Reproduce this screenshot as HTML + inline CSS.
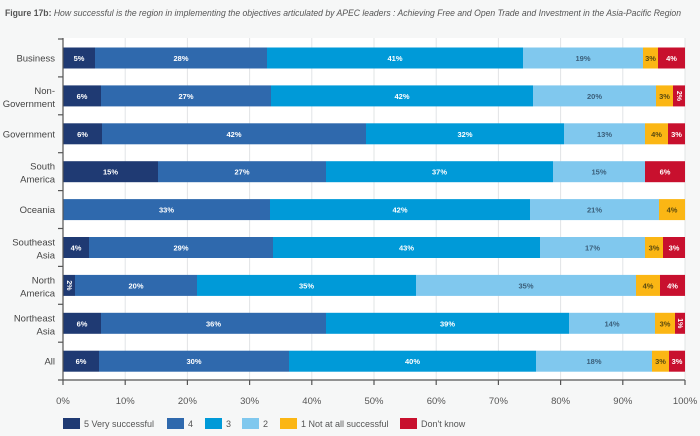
<!DOCTYPE html>
<html><head><meta charset="utf-8"><style>
body{margin:0;background:#f6f7f7;font-family:"Liberation Sans",sans-serif;}
svg{display:block}
</style></head><body>
<svg id="s" width="700" height="436" viewBox="0 0 700 436" xmlns="http://www.w3.org/2000/svg">
<rect width="700" height="436" fill="#f6f7f7"/>
<text x="5" y="16" font-size="9" fill="#555" textLength="676" lengthAdjust="spacingAndGlyphs"><tspan font-weight="bold">Figure 17b:</tspan><tspan font-style="italic"> How successful is the region in implementing the objectives articulated by APEC leaders : Achieving Free and Open Trade and Investment in the Asia-Pacific Region</tspan></text>
<rect x="63" y="38" width="622" height="342" fill="#ffffff"/>
<g id="g"></g>
</svg>
<script>
var g=document.getElementById('g');var NS="http://www.w3.org/2000/svg";
function el(t,a,txt){var e=document.createElementNS(NS,t);for(var k in a)e.setAttribute(k,a[k]);if(txt!=null)e.textContent=txt;g.appendChild(e);return e;}
var X0=63,W=622,AX=380;
for(var i=1;i<=10;i++){var x=X0+W*i/10;el('line',{x1:x,y1:38,x2:x,y2:AX,stroke:'#e2e4e6','stroke-width':1});}
var cols=['#1f3a73','#2f69ad','#009ad8','#80c8ee','#fbb614','#c8102e'];
var rows=[
["Business",[5,28,41,19,3,4],[95,267,523,643,658]],
["Non-|Government",[6,27,42,20,3,2],[101,271,533,656,673]],
["Government",[6,42,32,13,4,3],[102,366,564,645,668]],
["South|America",[15,27,37,15,0,6],[158,326,553,645,645]],
["Oceania",[0,33,42,21,4,0],[63,270,530,659,685]],
["Southeast|Asia",[4,29,43,17,3,3],[89,273,540,645,663]],
["North|America",[2,20,35,35,4,4],[75,197,416,636,660]],
["Northeast|Asia",[6,36,39,14,3,1],[101,326,569,655,675]],
["All",[6,30,40,18,3,3],[99,289,536,652,669]]];
rows.forEach(function(r,i){
 var cy=58+37.9*i;
 var b=[63].concat(r[2]).concat([685]);
 for(var j=0;j<6;j++){var a=b[j],c=b[j+1];if(c-a<1||r[1][j]==0)continue;
  el('rect',{x:a,y:cy-10.5,width:c-a,height:21,fill:cols[j]});
  var tc=j==4?'#5a4a10':(j==3?'#3b5f7a':'#fff');
  if(r[1][j]<=2){el('text',{x:(a+c)/2,y:cy,'font-size':7,'font-weight':'bold',fill:tc,'text-anchor':'middle','dominant-baseline':'middle',transform:'rotate(90 '+((a+c)/2)+' '+cy+')'},r[1][j]+'%');}
  else el('text',{x:(a+c)/2,y:cy+3,'font-size':7.5,'font-weight':'bold',fill:tc,'text-anchor':'middle'},r[1][j]+'%');
 }
 var lines=r[0].split('|');
 if(lines.length==1)el('text',{x:55,y:cy+3.5,'font-size':9.5,fill:'#444','text-anchor':'end'},lines[0]);
 else{el('text',{x:55,y:cy-2,'font-size':9.5,fill:'#444','text-anchor':'end'},lines[0]);el('text',{x:55,y:cy+11,'font-size':9.5,fill:'#444','text-anchor':'end'},lines[1]);}
});
el('line',{x1:63,y1:38,x2:63,y2:AX,stroke:'#555','stroke-width':1.2});
el('line',{x1:58,y1:AX,x2:685,y2:AX,stroke:'#555','stroke-width':1.2});
for(var i=0;i<=8;i++){var y=39+37.9*i;el('line',{x1:58,y1:y,x2:63,y2:y,stroke:'#555','stroke-width':1.2});}
for(var i=0;i<=10;i++){var x=X0+W*i/10;el('line',{x1:x,y1:AX,x2:x,y2:AX+5,stroke:'#555','stroke-width':1.2});
 el('text',{x:x,y:404,'font-size':9.5,fill:'#555','text-anchor':'middle'},(i*10)+'%');}
var leg=[["5 Very successful",63],["4",167],["3",205],["2",242],["1 Not at all successful",280],["Don't know",400]];
leg.forEach(function(l,j){el('rect',{x:l[1],y:418,width:17,height:11,fill:cols[j]});
 el('text',{x:l[1]+21,y:427,'font-size':9,fill:'#555'},l[0]);});
</script>
</body></html>
